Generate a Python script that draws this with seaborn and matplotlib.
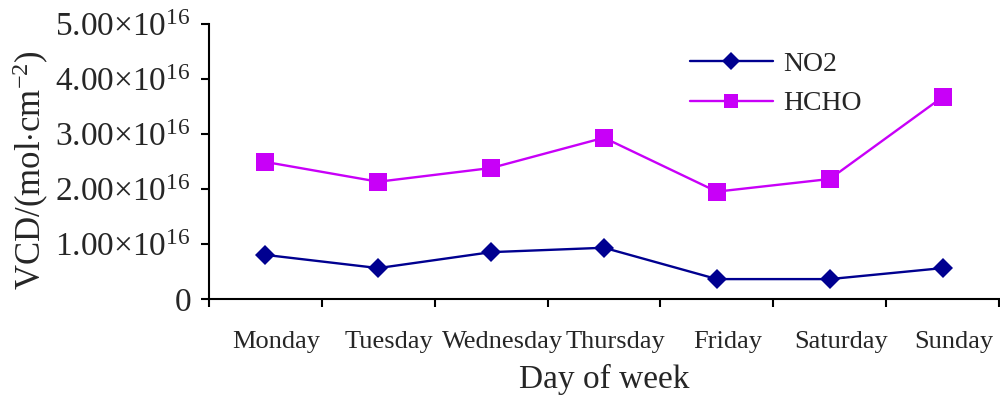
import matplotlib
matplotlib.use("Agg")
import matplotlib.pyplot as plt
import matplotlib.transforms as mtransforms
import seaborn as sns
import pandas as pd
import numpy as np
from matplotlib.ticker import FixedLocator, FuncFormatter

days = ["Monday", "Tuesday", "Wednesday", "Thursday", "Friday", "Saturday", "Sunday"]
no2 = [0.80, 0.56, 0.85, 0.93, 0.36, 0.36, 0.56]
hcho = [2.49, 2.13, 2.38, 2.93, 1.95, 2.18, 3.67]
series = ["NO2", "HCHO"]
colors = {"NO2": "#000090", "HCHO": "#C800F8"}

sns.set_theme(style="white")
plt.rcParams['font.family'] = ['Liberation Serif', 'DejaVu Serif']
plt.rcParams['mathtext.fontset'] = 'custom'
plt.rcParams['mathtext.rm'] = 'Liberation Serif'
plt.rcParams['mathtext.it'] = 'Liberation Serif:italic'

df = pd.DataFrame({
    "day": days * 2,
    "x": list(range(len(days))) * 2,
    "value": no2 + hcho,
    "series": ["NO2"] * len(days) + ["HCHO"] * len(days),
})

fig = plt.figure(figsize=(10, 3.98), dpi=100)
ax = fig.add_axes([0.209, 0.249, 0.790, 0.691])

sns.lineplot(data=df, x="x", y="value", hue="series", style="series",
             markers={"NO2": "D", "HCHO": "s"}, dashes=False,
             palette=colors, hue_order=series, style_order=series,
             linewidth=1.7, markersize=12, markeredgewidth=0, ax=ax, sort=False)
for line in ax.lines:
    if line.get_marker() == "D":
        line.set_markersize(10.5)
    elif line.get_marker() == "s":
        line.set_markersize(13.5)

ax.set_xlim(-0.5, len(days) - 0.5)
ax.set_ylim(0, 5)
ax.xaxis.set_major_locator(FixedLocator(np.arange(-0.5, len(days), 1.0)))
ax.xaxis.set_major_formatter(FuncFormatter(lambda v, p: ""))
ax.xaxis.set_minor_locator(FixedLocator(np.arange(len(days))))
ax.set_xticklabels(days, minor=True)
ax.tick_params(axis="x", which="minor", length=0, labelsize=19, pad=23)
ax.tick_params(axis="x", which="major", direction="out", length=6, width=1.5, bottom=True, color="black")
offset = mtransforms.ScaledTranslation(11 / 100, 0, fig.dpi_scale_trans)
for lab in ax.xaxis.get_minorticklabels():
    lab.set_transform(lab.get_transform() + offset)

ax.set_yticks([0, 1, 2, 3, 4, 5])
def yfmt(v, p):
    if v == 0:
        return "0"
    return r"$\mathregular{%.2f{\times}10^{16}}$" % v
ax.yaxis.set_major_formatter(FuncFormatter(yfmt))
ax.tick_params(axis="y", direction="out", length=6, width=1.5, left=True, labelsize=24, pad=7, color="black")

for s in ["top", "right"]:
    ax.spines[s].set_visible(False)
for s in ["left", "bottom"]:
    ax.spines[s].set_color("black")
    ax.spines[s].set_linewidth(1.5)

ax.set_xlabel("Day of week", fontsize=24, labelpad=8)
ax.set_ylabel(r"VCD/(mol$\cdot$cm$^{-2}$)", fontsize=25)
ax.yaxis.set_label_coords(-0.200, 0.47)
ax.grid(False)

leg = ax.legend(loc="upper left", bbox_to_anchor=(0.577, 0.99), frameon=False,
                fontsize=20, handlelength=3.0, labelspacing=0.5, handletextpad=0.35)
for h in leg.legend_handles:
    if h.get_marker() == "D":
        h.set_markersize(9)
    else:
        h.set_markersize(10)

fig.savefig("out.png", dpi=100)
